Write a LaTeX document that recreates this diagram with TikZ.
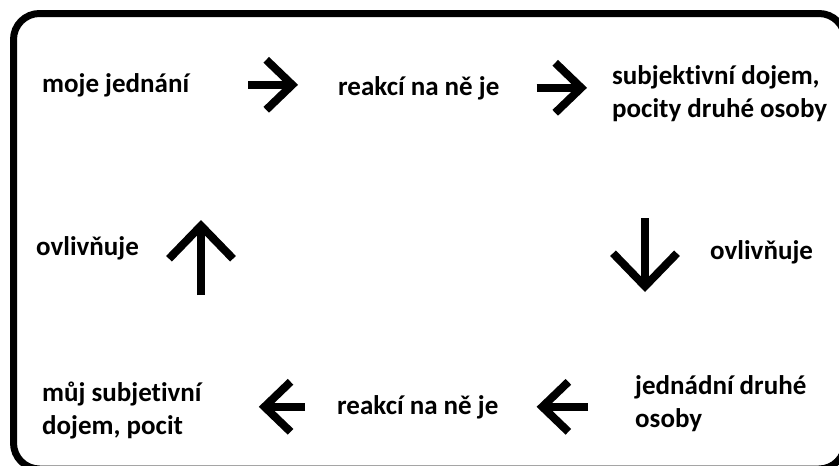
\documentclass[tikz,border=0pt]{standalone}
\usepackage{fontspec}
\setmainfont{Carlito}[Ligatures=NoCommon]
\usepackage{tikz}
\usetikzlibrary{arrows.meta,positioning}

\tikzset{
  lbl/.style={inner sep=0pt, font=\fontsize{27}{33}\selectfont\bfseries, anchor=base west},
  bigarrow/.style={line width=8pt, -{Straight Barb[length=26pt,width=50pt]}},
  bigarrowv/.style={line width=8pt, -{Straight Barb[length=33pt,width=64pt]}},
}

\begin{document}
\begin{tikzpicture}[x=1pt,y=-1pt]
    \useasboundingbox (0,0) rectangle (839,466);
    \draw[line width=7pt, rounded corners=26pt] (13.5,13.5) rectangle (845,469);

    % Labels
    \node[lbl] (act) at (42,92) {moje jednání};
    \node[lbl] (react1) at (338,95) {reakcí na ně je};
    \node[lbl, align=left] (feel2) at (612,117) {subjektivní dojem,\\pocity druhé osoby};
    \node[lbl] (infl1) at (36,255) {ovlivňuje};
    \node[lbl] (infl2) at (710,259) {ovlivňuje};
    \node[lbl, align=left] (feel1) at (42,434) {můj subjetivní\\dojem, pocit};
    \node[lbl] (react2) at (337,414) {reakcí na ně je};
    \node[lbl, align=left] (act2) at (635,427) {jednádní druhé\\osoby};

    % Arrows
    \draw[bigarrow, shorten <=59pt, shorten >=40pt] (act.east) -- (act.east -| react1.west);
    \draw[bigarrow, shorten <=37pt, shorten >=25pt] (react1.east) -- (react1.east -| feel2.west);
    \draw[bigarrow, shorten <=47pt, shorten >=38pt] (react2.east -| act2.west) -- (react2.east);
    \draw[bigarrow, shorten <=32pt, shorten >=57pt] (react2.west) -- (react2.west -| feel1.east);

    \coordinate (upA) at (201,295);
    \coordinate (upB) at (201,220);
    \coordinate (downA) at (645,218);
    \coordinate (downB) at (645,292);
    \draw[bigarrowv] (upA) -- (upB);
    \draw[bigarrowv] (downA) -- (downB);
\end{tikzpicture}
\end{document}
